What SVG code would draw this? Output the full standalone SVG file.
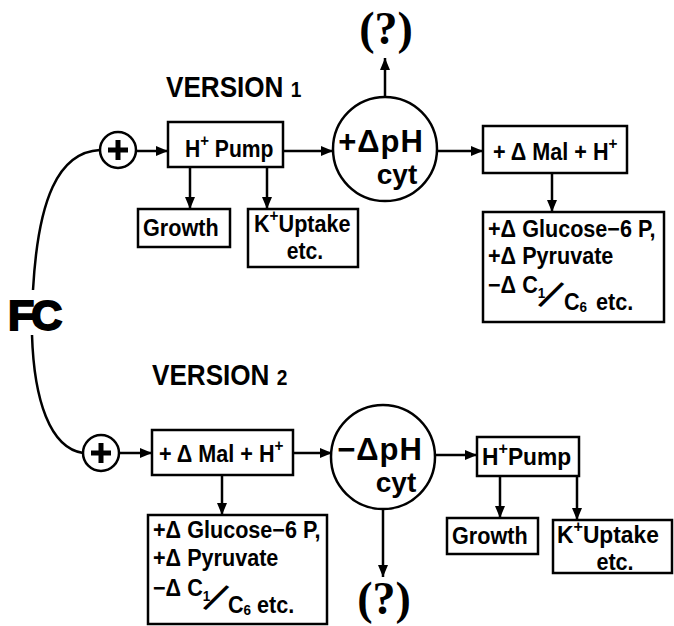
<svg xmlns="http://www.w3.org/2000/svg" width="674" height="626" viewBox="0 0 674 626">
<defs>
<marker id="ah" viewBox="0 0 12 10" refX="12" refY="5" markerWidth="12" markerHeight="10" markerUnits="userSpaceOnUse" orient="auto">
<path d="M0,0 L12,5 L0,10 z" fill="#000"/>
</marker>
<style>
.box{fill:#fff;stroke:#000;stroke-width:2.5}
.circ{fill:#fff;stroke:#000;stroke-width:2.5}
.plus{stroke:#000;stroke-width:5;stroke-linecap:butt}
.ln{fill:none;stroke:#000;stroke-width:2.5}
.arr{fill:none;stroke:#000;stroke-width:2.5;marker-end:url(#ah)}
.t{font-family:"Liberation Sans",Arial,sans-serif;font-weight:bold;font-size:24px;fill:#000}
.big{font-family:"Liberation Sans",Arial,sans-serif;font-weight:bold;font-size:31px;letter-spacing:1px;fill:#000;text-anchor:middle}
.cyt{font-family:"Liberation Sans",Arial,sans-serif;font-weight:bold;font-size:28px;fill:#000;text-anchor:middle}
.ver{font-family:"Liberation Sans",Arial,sans-serif;font-weight:bold;font-size:30px;fill:#000}
.q{font-family:"Liberation Serif","Times New Roman",serif;font-weight:bold;font-size:46px;fill:#000;text-anchor:middle}
.fc{font-family:"Liberation Sans",Arial,sans-serif;font-weight:bold;font-size:43px;letter-spacing:-3px;fill:#000;stroke:#000;stroke-width:2}
.sl{font-family:"Liberation Sans",Arial,sans-serif;font-size:43px;fill:#000;text-anchor:middle}
</style>
</defs>
<rect width="674" height="626" fill="#fff"/>

<g id="connectors">
<path class="ln" d="M100,150 C58,152 38,200 33,290"/>
<path class="ln" d="M32,335 C34,400 50,448 83,453"/>
<line class="arr" x1="136" y1="151" x2="168" y2="151"/>
<line class="arr" x1="283" y1="151" x2="333" y2="151"/>
<line class="arr" x1="437" y1="151" x2="483" y2="151"/>
<line class="arr" x1="385" y1="97" x2="385" y2="58"/>
<line class="arr" x1="552" y1="173" x2="552" y2="212"/>
<line class="arr" x1="190" y1="167" x2="190" y2="209"/>
<line class="arr" x1="267" y1="167" x2="267" y2="209"/>
<line class="arr" x1="119" y1="453" x2="152" y2="453"/>
<line class="arr" x1="293" y1="453" x2="332" y2="453"/>
<line class="arr" x1="434" y1="455" x2="477" y2="455"/>
<line class="arr" x1="383" y1="509" x2="383" y2="577"/>
<line class="arr" x1="222" y1="475" x2="222" y2="515"/>
<line class="arr" x1="500" y1="476" x2="500" y2="518"/>
<line class="arr" x1="577" y1="476" x2="577" y2="520"/>
</g>

<g id="fc"><text class="fc" x="8" y="330">FC</text></g>

<g id="version1-label"><text class="ver" transform="translate(166,97) scale(0.87,1)">VERSION <tspan font-size="22">1</tspan></text></g>
<g id="version2-label"><text class="ver" transform="translate(152,385) scale(0.87,1)">VERSION <tspan font-size="22">2</tspan></text></g>

<g id="plus1">
<circle class="circ" cx="118" cy="150" r="18"/>
<line class="plus" x1="108" y1="150" x2="128" y2="150"/>
<line class="plus" x1="118" y1="140" x2="118" y2="160"/>
</g>
<g id="plus2">
<circle class="circ" cx="101" cy="453" r="18"/>
<line class="plus" x1="91" y1="453" x2="111" y2="453"/>
<line class="plus" x1="101" y1="443" x2="101" y2="463"/>
</g>

<g id="hpump1">
<rect class="box" x="168" y="122" width="115" height="45"/>
<text class="t" transform="translate(185,157) scale(0.88,1)">H<tspan dy="-11" font-size="17">+</tspan><tspan dy="11"> Pump</tspan></text>
</g>
<g id="growth1">
<rect class="box" x="138" y="209" width="92" height="38"/>
<text class="t" transform="translate(143,236) scale(0.9,1)">Growth</text>
</g>
<g id="kuptake1">
<rect class="box" x="248" y="209" width="110" height="58"/>
<text class="t" transform="translate(254,232) scale(0.9,1)">K<tspan dy="-11" font-size="17">+</tspan><tspan dy="11">Uptake</tspan></text>
<text class="t" text-anchor="middle" transform="translate(305,259) scale(0.88,1)">etc.</text>
</g>
<g id="ph1">
<circle class="circ" cx="385" cy="149" r="52"/>
<text class="big" x="381" y="152">+ΔpH</text>
<text class="cyt" x="397" y="184">cyt</text>
</g>
<g id="q1"><text class="q" x="386" y="44">(?)</text></g>
<g id="mal1">
<rect class="box" x="483" y="126" width="144" height="47"/>
<text class="t" transform="translate(493,160) scale(0.9,1)">+ Δ Mal + H<tspan dy="-11" font-size="17">+</tspan></text>
</g>
<g id="glucose1">
<rect class="box" x="483" y="212" width="181" height="110"/>
<text class="t" transform="translate(488,237) scale(0.9,1)">+Δ Glucose−6 P,</text>
<text class="t" transform="translate(488,264) scale(0.9,1)">+Δ Pyruvate</text>
<text class="t" transform="translate(488,293) scale(0.9,1)">−Δ C<tspan dy="5" font-size="15">1</tspan></text>
<text class="sl" x="551" y="310" transform="rotate(30 551 295)">/</text>
<text class="t" transform="translate(564,310) scale(0.9,1)">C<tspan dy="2" font-size="15">6</tspan></text>
<text class="t" transform="translate(596,310) scale(0.9,1)">etc.</text>
</g>

<g id="mal2">
<rect class="box" x="152" y="430" width="141" height="45"/>
<text class="t" transform="translate(159,462) scale(0.9,1)">+ Δ Mal + H<tspan dy="-11" font-size="17">+</tspan></text>
</g>
<g id="glucose2">
<rect class="box" x="148" y="515" width="179" height="109"/>
<text class="t" transform="translate(153,538) scale(0.9,1)">+Δ Glucose−6 P,</text>
<text class="t" transform="translate(153,566) scale(0.9,1)">+Δ Pyruvate</text>
<text class="t" transform="translate(153,596) scale(0.9,1)">−Δ C<tspan dy="5" font-size="15">1</tspan></text>
<text class="sl" x="216" y="613" transform="rotate(30 216 598)">/</text>
<text class="t" transform="translate(228,613) scale(0.9,1)">C<tspan dy="2" font-size="15">6</tspan></text>
<text class="t" transform="translate(257,613) scale(0.9,1)">etc.</text>
</g>
<g id="ph2">
<circle class="circ" cx="383" cy="457" r="52"/>
<text class="big" x="380" y="460">−ΔpH</text>
<text class="cyt" x="396" y="492">cyt</text>
</g>
<g id="q2"><text class="q" x="384" y="614">(?)</text></g>
<g id="hpump2">
<rect class="box" x="477" y="437" width="102" height="39"/>
<text class="t" transform="translate(482,465) scale(0.95,1)">H<tspan dy="-11" font-size="17">+</tspan><tspan dy="11">Pump</tspan></text>
</g>
<g id="growth2">
<rect class="box" x="447" y="518" width="91" height="36"/>
<text class="t" transform="translate(452,544) scale(0.9,1)">Growth</text>
</g>
<g id="kuptake2">
<rect class="box" x="553" y="520" width="119" height="53"/>
<text class="t" transform="translate(557,543) scale(0.95,1)">K<tspan dy="-11" font-size="17">+</tspan><tspan dy="11">Uptake</tspan></text>
<text class="t" text-anchor="middle" transform="translate(615,570) scale(0.9,1)">etc.</text>
</g>
</svg>
